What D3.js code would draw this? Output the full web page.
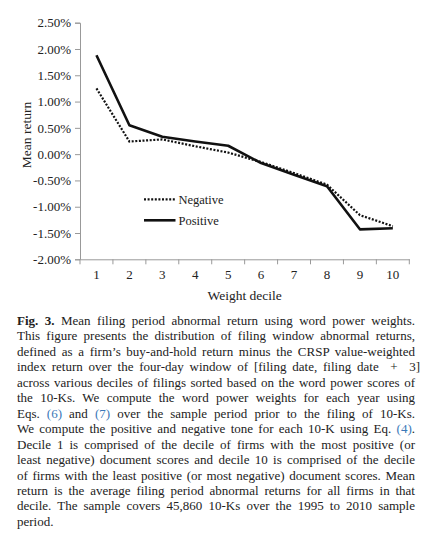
<!DOCTYPE html>
<html>
<head>
<meta charset="utf-8">
<script src="https://cdn.jsdelivr.net/npm/d3@7"></script>
<style>
  body { margin: 0; background: #fff; }
  #chart { position: absolute; left: 0; top: 0; }
  #chart text { font-family: "Liberation Serif", "Times New Roman", serif; fill: #222; }
  #caption {
    position: absolute; left: 17px; top: 313px; width: 398px;
    font-family: "Liberation Serif", "Times New Roman", serif; font-size: 13px; color: #222;
  }
  #caption .line { height: 15.46px; line-height: 15.46px; white-space: nowrap; }
  #caption .ref { color: #3b78b8; }
</style>
</head>
<body>
<svg id="chart" width="429" height="305"></svg>
<div id="caption"></div>
<script>
'use strict';

window.addEventListener('DOMContentLoaded', () => {
    const { d3 } = window;

    // deciles on the x axis
    const DECILES = ['1', '2', '3', '4', '5', '6', '7', '8', '9', '10'];
    // mean return (%) per decile
    const POSITIVE = [1.88, 0.55, 0.33, 0.24, 0.16, -0.17, -0.39, -0.61, -1.43, -1.41];
    const NEGATIVE = [1.25, 0.24, 0.28, 0.15, 0.03, -0.15, -0.36, -0.58, -1.16, -1.37];
    const Y_TICKS = [-2, -1.5, -1, -0.5, 0, 0.5, 1, 1.5, 2, 2.5];

    const CAPTION = [
        [['b', 'Fig. 3.'], ['t', ' Mean filing period abnormal return using word power weights.']],
        [['t', 'This figure presents the distribution of filing window abnormal returns,']],
        [['t', 'defined as a firm\u2019s buy-and-hold return minus the CRSP value-weighted']],
        [['t', 'index return over the four-day window of [filing date, filing date \u00a0+\u00a0 3]']],
        [['t', 'across various deciles of filings sorted based on the word power scores of']],
        [['t', 'the 10-Ks. We compute the word power weights for each year using']],
        [['t', 'Eqs. '], ['r', '(6)'], ['t', ' and '], ['r', '(7)'], ['t', ' over the sample period prior to the filing of 10-Ks.']],
        [['t', 'We compute the positive and negative tone for each 10-K using Eq. '], ['r', '(4)'], ['t', '.']],
        [['t', 'Decile 1 is comprised of the decile of firms with the most positive (or']],
        [['t', 'least negative) document scores and decile 10 is comprised of the decile']],
        [['t', 'of firms with the least positive (or most negative) document scores. Mean']],
        [['t', 'return is the average filing period abnormal returns for all firms in that']],
        [['t', 'decile. The sample covers 45,860 10-Ks over the 1995 to 2010 sample']],
        [['t', 'period.']],
    ];

    const svg = d3.select('#chart');
    const M = { left: 80, right: 409.3, top: 22.7, bottom: 259.3 };

    const x = d3.scaleBand().domain(DECILES).range([M.left, M.right]);
    const y = d3.scaleLinear().domain([-2, 2.5]).range([M.bottom, M.top]);

    // y axis
    const yAxis = svg.append('g')
        .attr('transform', `translate(${M.left},0)`)
        .call(d3.axisLeft(y).tickValues(Y_TICKS).tickSize(5).tickPadding(4)
            .tickFormat((d) => `${d.toFixed(2)}%`));
    yAxis.select('.domain').attr('stroke', '#999');
    yAxis.selectAll('.tick line').attr('stroke', '#999');
    yAxis.selectAll('.tick text').style('font-size', '13px');

    // x axis, ticks at band edges
    const xAxis = svg.append('g')
        .attr('transform', `translate(0,${M.bottom})`)
        .call(d3.axisBottom(x).tickSize(0).tickPadding(10));
    xAxis.select('.domain').attr('stroke', '#999');
    xAxis.selectAll('.tick text').style('font-size', '13px');
    xAxis.selectAll('.edge')
        .data(d3.range(DECILES.length + 1))
        .join('line')
        .attr('x1', (i) => M.left + i * x.step())
        .attr('x2', (i) => M.left + i * x.step())
        .attr('y1', 0).attr('y2', 5)
        .attr('stroke', '#999');

    // axis titles
    svg.append('text')
        .attr('x', (M.left + M.right) / 2).attr('y', 300)
        .attr('text-anchor', 'middle')
        .style('font-size', '13.5px')
        .text('Weight decile');
    svg.append('text')
        .attr('transform', 'translate(31,135) rotate(-90)')
        .attr('text-anchor', 'middle')
        .style('font-size', '13.5px')
        .text('Mean return');

    // lines
    const line = d3.line()
        .x((d, i) => x(DECILES[i]) + x.bandwidth() / 2)
        .y((d) => y(d));

    svg.append('path')
        .attr('d', line(NEGATIVE))
        .attr('fill', 'none').attr('stroke', '#111')
        .attr('stroke-width', 2.2).attr('stroke-dasharray', '2,1.6');
    svg.append('path')
        .attr('d', line(POSITIVE))
        .attr('fill', 'none').attr('stroke', '#111')
        .attr('stroke-width', 2.6).attr('stroke-linejoin', 'round');

    // legend
    const legend = [
        { name: 'Negative', dash: '2,1.6', w: 2.2, y: 199.3 },
        { name: 'Positive', dash: null, w: 2.6, y: 220.3 },
    ];
    const lg = svg.append('g');
    lg.selectAll('line').data(legend).join('line')
        .attr('x1', 144).attr('x2', 175.5)
        .attr('y1', (d) => d.y).attr('y2', (d) => d.y)
        .attr('stroke', '#111').attr('stroke-width', (d) => d.w)
        .attr('stroke-dasharray', (d) => d.dash);
    lg.selectAll('text').data(legend).join('text')
        .attr('x', 178.5).attr('y', (d) => d.y + 4.5)
        .style('font-size', '12.5px')
        .text((d) => d.name);

    // caption, each line justified to the column width
    const cap = d3.select('#caption');
    const W = 398;
    CAPTION.forEach((parts, li) => {
        const div = cap.append('div').attr('class', 'line');
        const span = div.append('span');
        parts.forEach(([kind, txt]) => {
            const s = span.append('span').text(txt);
            if (kind === 'b') s.style('font-weight', 'bold');
            if (kind === 'r') s.attr('class', 'ref');
        });
        if (li === CAPTION.length - 1) return;
        const full = parts.map((p) => p[1]).join('');
        const spaces = (full.match(/ /g) || []).length;
        const w = span.node().getBoundingClientRect().width;
        if (spaces) span.style('word-spacing', `${(W - w) / spaces}px`);
    });
});
</script>
</body>
</html>
